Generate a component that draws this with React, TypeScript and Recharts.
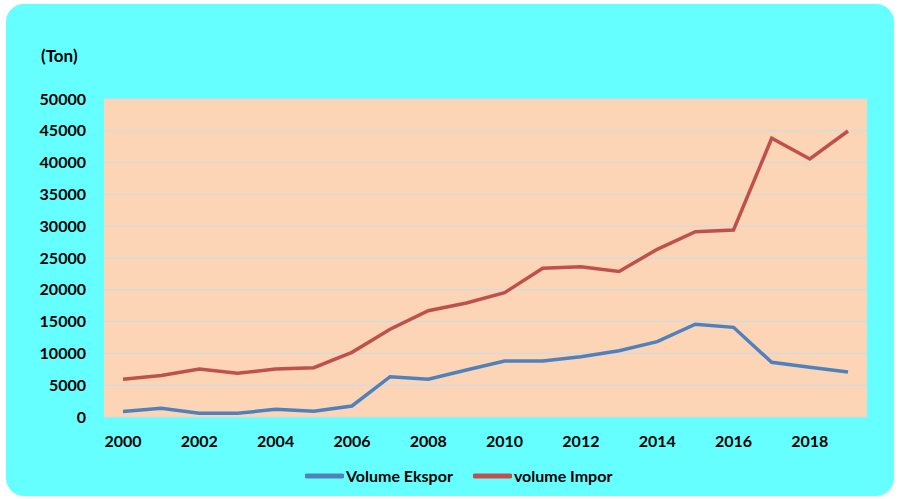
import { LineChart, Line, XAxis, YAxis, CartesianGrid } from "recharts";

const years = [
  "2000", "2001", "2002", "2003", "2004", "2005", "2006", "2007", "2008", "2009",
  "2010", "2011", "2012", "2013", "2014", "2015", "2016", "2017", "2018", "2019",
];
const ekspor = [
  850, 1370, 580, 580, 1200, 900, 1730, 6340, 5930, 7390,
  8800, 8800, 9480, 10430, 11840, 14580, 14100, 8600, 7810, 7075,
];
const impor = [
  5930, 6530, 7550, 6870, 7550, 7760, 10170, 13790, 16720, 17920,
  19550, 23380, 23640, 22880, 26370, 29140, 29400, 43820, 40570, 44970,
];
const yTicks = [0, 5000, 10000, 15000, 20000, 25000, 30000, 35000, 40000, 45000, 50000];

const FONT = "Lato, 'Open Sans', sans-serif";
const BLUE = "#4F81BD";
const RED = "#C0504D";

const data = years.map((y, i) => ({
  year: y,
  ekspor: ekspor[i],
  impor: impor[i],
}));

const legendItems = [
  { label: "Volume Ekspor", color: BLUE },
  { label: "volume Impor", color: RED },
];

export default function App() {
  return (
    <div style={{ position: "fixed", left: 0, top: 0, width: 898, height: 499, background: "#fff" }}>
      <div
        style={{
          position: "absolute",
          left: 6,
          top: 4,
          width: 888,
          height: 492,
          background: "#66FFFF",
          borderRadius: 18,
        }}
      />
      <div
        style={{
          position: "absolute",
          left: 41,
          top: 45,
          fontFamily: FONT,
          fontSize: 17,
          fontWeight: 700,
          color: "#000",
        }}
      >
        (Ton)
      </div>
      <div style={{ position: "absolute", left: 0, top: 0 }}>
        <LineChart
          width={898}
          height={499}
          data={data}
          margin={{ top: 99, right: 31, bottom: 52, left: 0 }}
        >
          <CartesianGrid
            vertical={false}
            stroke="#D9D9D9"
            strokeWidth={1.5}
            fill="#FBD5B5"
            fillOpacity={1}
          />
          <XAxis
            dataKey="year"
            height={30}
            interval={1}
            padding={{ left: 19, right: 19 }}
            axisLine={false}
            tickLine={false}
            tickSize={0}
            tickMargin={19}
            tick={{ fontFamily: FONT, fontSize: 16, fontWeight: 700, fill: "#000" }}
          />
          <YAxis
            width={104}
            domain={[0, 50000]}
            ticks={yTicks}
            axisLine={false}
            tickLine={false}
            tickSize={0}
            tickMargin={18}
            tick={{ fontFamily: FONT, fontSize: 16, fontWeight: 700, fill: "#000" }}
          />
          <Line
            type="linear"
            dataKey="ekspor"
            name="Volume Ekspor"
            stroke={BLUE}
            strokeWidth={3.5}
            dot={false}
            activeDot={false}
            isAnimationActive={false}
          />
          <Line
            type="linear"
            dataKey="impor"
            name="volume Impor"
            stroke={RED}
            strokeWidth={3.5}
            dot={false}
            activeDot={false}
            isAnimationActive={false}
          />
        </LineChart>
      </div>
      <div
        style={{
          position: "absolute",
          left: 305,
          top: 466,
          display: "flex",
          gap: 20,
          fontFamily: FONT,
        }}
      >
        {legendItems.map((it) => (
          <div key={it.label} style={{ display: "flex", alignItems: "center" }}>
            <svg width={39} height={10}>
              <line x1={2} y1={5} x2={37} y2={5} stroke={it.color} strokeWidth={5} strokeLinecap="round" />
            </svg>
            <span style={{ fontSize: 16, fontWeight: 700, color: "#000", marginLeft: 2 }}>{it.label}</span>
          </div>
        ))}
      </div>
    </div>
  );
}
